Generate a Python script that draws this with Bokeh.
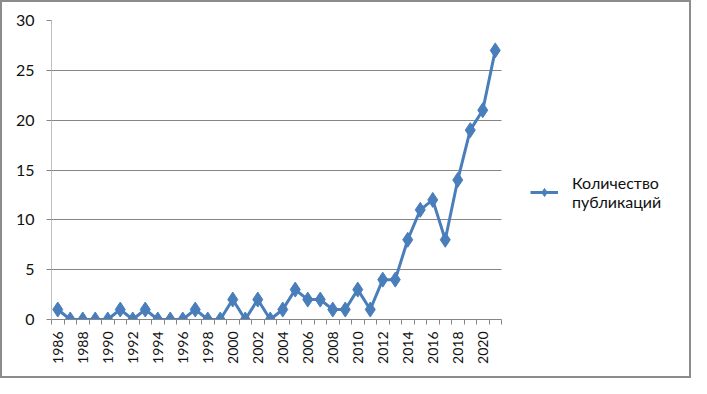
import math
from bokeh.plotting import figure
from bokeh.models import FixedTicker, Legend, LegendItem
from bokeh.embed import file_html
from bokeh.resources import INLINE

years = list(range(1986, 2022))
counts = [1, 0, 0, 0, 0, 1, 0, 1, 0, 0, 0, 1, 0, 0, 2, 0, 2, 0, 1, 3, 2, 2, 1, 1,
          3, 1, 4, 4, 8, 11, 12, 8, 14, 19, 21, 27]
y_ticks = [0, 5, 10, 15, 20, 25, 30]
x_label_years = years[::2]
x_boundaries = [y - 0.5 for y in years] + [years[-1] + 0.5]
series_name = "Количество\nпубликаций"

FONT = "Lato"
BLUE = "#4a7ebb"
GRID = "#868686"
TEXT = "#111111"

W, H = 687, 374
LEFT, TOP, BOTTOM = 49, 18, 57
DATA_W = 450                      # width of the plotting area used by the data
FW = W - LEFT - 2                 # frame extends under the legend area
FH = H - TOP - BOTTOM
x0, x1 = years[0] - 0.5, years[-1] + 0.5
x_end = x0 + (x1 - x0) * FW / DATA_W

p = figure(width=W, height=H, output_backend="svg", toolbar_location=None,
           x_range=(x0, x_end), y_range=(0, 30),
           frame_width=FW, frame_height=FH,
           min_border_left=LEFT, min_border_right=2, min_border_top=TOP,
           min_border_bottom=BOTTOM)
p.styles = {"border": "2px solid #8c8c8c"}
p.outline_line_color = None
p.background_fill_color = "white"
p.border_fill_color = "white"

line_r = p.line(years, counts, line_color=BLUE, line_width=3)
pts_r = p.scatter(years, counts, marker="diamond", size=15, fill_color=BLUE,
                  line_color=BLUE)

p.xaxis.bounds = (x0, x1)
p.xaxis.ticker = FixedTicker(ticks=x_label_years, minor_ticks=x_boundaries)
p.xaxis.major_label_orientation = math.pi / 2
p.xaxis.major_tick_line_color = None
p.xaxis.minor_tick_line_color = GRID
p.xaxis.minor_tick_out = 5
p.xaxis.minor_tick_in = 0
p.xaxis.major_label_standoff = 6
p.xaxis.major_label_text_font = FONT
p.xaxis.major_label_text_font_size = "14px"
p.xaxis.major_label_text_color = TEXT
p.xaxis.axis_line_color = GRID

p.yaxis.ticker = FixedTicker(ticks=y_ticks)
p.yaxis.minor_tick_line_color = None
p.yaxis.major_tick_line_color = GRID
p.yaxis.major_tick_out = 5
p.yaxis.major_tick_in = 0
p.yaxis.major_label_standoff = 12
p.yaxis.major_label_text_font = FONT
p.yaxis.major_label_text_font_size = "16px"
p.yaxis.major_label_text_color = TEXT
p.yaxis.axis_line_color = "#bfbfbf"

p.xgrid.grid_line_color = None
p.ygrid.grid_line_color = GRID
p.ygrid.grid_line_width = 1
p.ygrid.cross_bounds = (x0, x1)

legend = Legend(items=[LegendItem(label=series_name, renderers=[line_r, pts_r])],
                location=(DATA_W + 29, 108), orientation="vertical")
legend.border_line_color = None
legend.background_fill_alpha = 0
legend.padding = 0
legend.margin = 0
legend.glyph_width = 28
legend.glyph_height = 20
legend.label_standoff = 14
legend.label_text_font = FONT
legend.label_text_font_size = "16px"
legend.label_text_color = TEXT
p.add_layout(legend, "center")

open("out.html", "w").write(file_html(p, INLINE))
